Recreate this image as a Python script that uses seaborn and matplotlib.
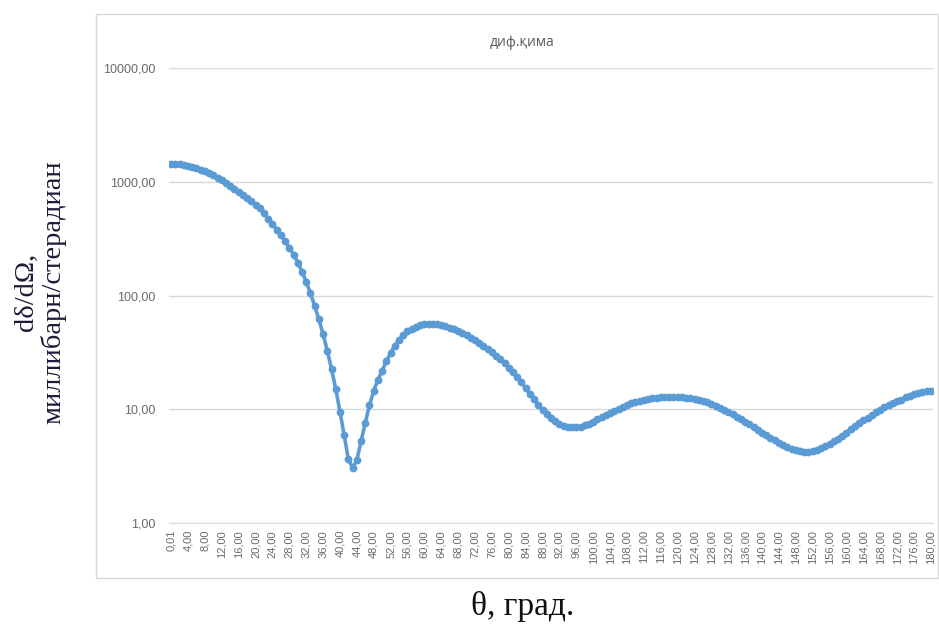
import numpy as np
import pandas as pd
import matplotlib
matplotlib.use("Agg")
import matplotlib.pyplot as plt
from matplotlib.patches import Rectangle
import seaborn as sns

# Angle categories (degrees) and cross-section values
angles = [0.01] + [float(a) for a in range(1, 181)]
sigma = [
    1445, 1439, 1426, 1406, 1384, 1355, 1318, 1279, 1239, 1194,
    1146, 1086, 1028, 968, 914, 861, 813, 766, 718, 671,
    628, 585, 528, 475, 427, 380, 339, 302, 263, 229,
    195, 162, 132, 105, 81, 62, 45.7, 32.7, 22.6, 15.1,
    9.55, 5.89, 3.63, 3.04, 3.58, 5.25, 7.62, 10.9, 14.5, 18.1,
    21.9, 26.3, 31.3, 36.3, 40.9, 45.0, 48.4, 51.1, 53.1, 54.6,
    55.6, 56.2, 56.4, 56.0, 55.2, 53.8, 52.2, 50.4, 48.3, 46.6,
    44.5, 42.4, 40.3, 38.2, 36.0, 33.9, 31.6, 29.4, 27.4, 25.3,
    23.2, 21.1, 19.1, 17.2, 15.3, 13.6, 12.2, 10.9, 9.89, 9.02,
    8.36, 7.85, 7.46, 7.18, 7.01, 6.93, 6.95, 7.05, 7.21, 7.45,
    7.76, 8.13, 8.51, 8.91, 9.33, 9.75, 10.14, 10.52, 10.89, 11.25,
    11.56, 11.86, 12.11, 12.33, 12.50, 12.65, 12.76, 12.82, 12.88, 12.88,
    12.85, 12.79, 12.68, 12.53, 12.33, 12.08, 11.80, 11.48, 11.12, 10.74,
    10.33, 9.91, 9.48, 9.06, 8.61, 8.18, 7.76, 7.35, 6.95, 6.58,
    6.22, 5.90, 5.60, 5.32, 5.07, 4.85, 4.67, 4.51, 4.38, 4.29,
    4.24, 4.23, 4.27, 4.37, 4.52, 4.71, 4.94, 5.21, 5.52, 5.86,
    6.24, 6.64, 7.06, 7.52, 7.98, 8.45, 8.93, 9.42, 9.91, 10.38,
    10.84, 11.30, 11.75, 12.16, 12.7, 13.1, 13.5, 13.8, 14.1, 14.4,
    14.6,
]
y_ticks = [1, 10, 100, 1000, 10000]
y_tick_labels = ["1,00", "10,00", "100,00", "1000,00", "10000,00"]

df = pd.DataFrame({"pos": np.arange(len(angles)), "angle": angles, "sigma": sigma})

sns.set_style("white")
fig = plt.figure(figsize=(9.39, 6.26), dpi=100)
ax = fig.add_axes([169 / 939, 1 - 523 / 626, (933 - 169) / 939, (523 - 68) / 626])

# chart area border
fig.patches.append(Rectangle((96 / 939, 1 - 578 / 626), 842 / 939, 564 / 626,
                             transform=fig.transFigure, fill=False,
                             edgecolor="#d9d9d9", linewidth=1))

sns.lineplot(data=df, x="pos", y="sigma", ax=ax, color="#5b9bd5",
             linewidth=2.6, marker="o", markersize=5.6, markeredgewidth=0)

ax.set_yscale("log")
ax.set_ylim(1, 10000)
ax.set_xlim(-0.5, len(angles) - 0.5)
ax.set_yticks(y_ticks)
ax.set_yticklabels(y_tick_labels)
ax.yaxis.set_minor_locator(matplotlib.ticker.NullLocator())

xt = df["pos"][::4]
ax.set_xticks(xt)
ax.set_xticklabels([f"{a:.2f}".replace(".", ",") for a in df["angle"][::4]],
                   rotation=90)

for lab in ax.get_yticklabels():
    lab.set_fontfamily("Liberation Sans")
    lab.set_fontsize(9)
    lab.set_color("#6a6a6a")
for lab in ax.get_xticklabels():
    lab.set_fontfamily("Liberation Sans")
    lab.set_fontsize(8)
    lab.set_color("#6a6a6a")
ax.tick_params(axis="y", length=0, pad=10)
ax.tick_params(axis="x", length=0, pad=5)

ax.grid(axis="y", color="#d9d9d9", linewidth=1)
ax.set_axisbelow(True)
for side in ["top", "right", "left"]:
    ax.spines[side].set_visible(False)
ax.spines["bottom"].set_color("#d9d9d9")
ax.set_xlabel("")
ax.set_ylabel("")

fig.text(522 / 939, 1 - 42 / 626, "диф.қима", ha="center", va="center",
         fontsize=10, color="#595959", family=["Open Sans", "DejaVu Sans"])
fig.text(40 / 939, 1 - 292 / 626, "dδ/dΩ,\nмиллибарн/стерадиан", rotation=90,
         ha="center", va="center", multialignment="center", fontsize=20.5,
         color="#1c1c3a", family=["Liberation Serif", "DejaVu Serif"],
         linespacing=1.1)
fig.text(523 / 939, 1 - 606 / 626, "θ, град.", ha="center", va="center",
         fontsize=24, color="#111111", family=["Liberation Serif", "DejaVu Serif"])

fig.savefig("out.png", dpi=100)
